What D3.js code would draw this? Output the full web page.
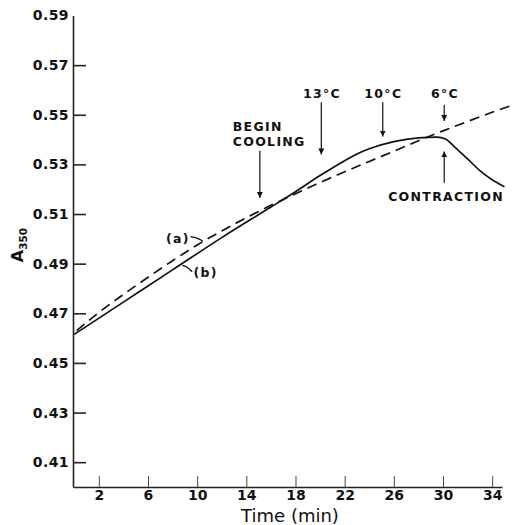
<!DOCTYPE html>
<html>
<head>
<meta charset="utf-8">
<script src="https://cdn.jsdelivr.net/npm/d3@7/dist/d3.min.js"></script>
<style>
  body { margin: 0; background: #fff; }
  svg text { font-family: "DejaVu Sans", sans-serif; fill: #111; }
</style>
</head>
<body>
<svg id="chart"></svg>
<script>
// time (min) and A350 readings
const timeA = [0.2, 2, 4, 6, 8, 10, 12, 14, 16, 18, 20, 22, 24, 26, 28, 30, 32, 34, 35.6];
const valuesA = [0.463, 0.4703, 0.4776, 0.4845, 0.4912, 0.4975, 0.5032, 0.5085, 0.5135, 0.5182, 0.5227, 0.527, 0.5312, 0.5353, 0.5395, 0.5435, 0.5473, 0.551, 0.5538];

const timeB = [0, 4, 8, 12, 16, 18, 20, 22, 23, 24, 26, 28, 29.5, 30.2, 31, 32, 33, 34, 35];
const valuesB = [0.4615, 0.4745, 0.4875, 0.5005, 0.5128, 0.519, 0.5255, 0.5315, 0.5342, 0.5363, 0.5392, 0.5407, 0.541, 0.5402, 0.5368, 0.5322, 0.5275, 0.5238, 0.521];

const xTicks = [2, 6, 10, 14, 18, 22, 26, 30, 34];
const yTicks = [0.41, 0.43, 0.45, 0.47, 0.49, 0.51, 0.53, 0.55, 0.57, 0.59];

// arrows: time, start value, end value
const arrows = [
  { t: 15.1, from: 0.5355, to: 0.5165 },
  { t: 20.1, from: 0.555, to: 0.534 },
  { t: 25.1, from: 0.555, to: 0.5412 },
  { t: 30.1, from: 0.554, to: 0.5475 },
  { t: 30.1, from: 0.5226, to: 0.5352 }
];

const labels = [
  { text: "13°C", t: 20.15, v: 0.5569, anchor: "middle" },
  { text: "10°C", t: 25.15, v: 0.5569, anchor: "middle" },
  { text: "6°C", t: 30.17, v: 0.5569, anchor: "middle" },
  { text: "BEGIN", t: 12.9, v: 0.5436, anchor: "start" },
  { text: "COOLING", t: 12.9, v: 0.5376, anchor: "start" },
  { text: "CONTRACTION", t: 30.25, v: 0.5153, anchor: "middle" },
  { text: "(a)", t: 8.43, v: 0.4984, anchor: "middle" },
  { text: "(b)", t: 10.7, v: 0.4847, anchor: "middle" }
];

// small curly leaders from (a) and (b) to their curves
const leaders = [
  [[9.45, 0.5009], [10.0, 0.5005], [10.45, 0.4991]],
  [[9.6, 0.4867], [9.2, 0.4887], [8.8, 0.4893]]
];

const width = 512, height = 525;
const svg = d3.select("#chart").attr("width", width).attr("height", height);

const x = d3.scaleLinear().domain([-0.1, 34.8]).range([73, 502]);
const y = d3.scaleLinear().domain([0.40, 0.59]).range([487, 15.5]);

svg.append("defs").append("marker")
  .attr("id", "head")
  .attr("viewBox", "0 0 10 10")
  .attr("refX", 10).attr("refY", 5)
  .attr("markerWidth", 6).attr("markerHeight", 7)
  .attr("markerUnits", "userSpaceOnUse")
  .attr("orient", "auto")
  .append("path").attr("d", "M0,0L10,5L0,10Z").attr("fill", "#111");

const yAxis = svg.append("g")
  .attr("transform", `translate(${x(-0.1)},0)`)
  .call(d3.axisLeft(y).tickValues(yTicks).tickSizeInner(-13).tickSizeOuter(0).tickPadding(4).tickFormat(d3.format(".2f")));
yAxis.selectAll(".tick").filter(d => d === 0.59).select("line").remove();

const xAxis = svg.append("g")
  .attr("transform", `translate(0,${y(0.40)})`)
  .call(d3.axisBottom(x).tickValues(xTicks).tickSizeInner(-11).tickSizeOuter(0).tickPadding(3));

svg.selectAll(".domain").attr("stroke", "#222").attr("stroke-width", 1.6);
yAxis.selectAll(".tick line").attr("stroke", "#222").attr("stroke-width", 1.6);
xAxis.selectAll(".tick line").attr("stroke", "#444").attr("stroke-width", 1);
svg.selectAll(".tick text")
  .attr("font-family", "DejaVu Sans")
  .attr("font-size", 14).attr("font-weight", "bold").attr("fill", "#111");
yAxis.selectAll(".tick text").attr("letter-spacing", 0.4);

svg.append("text")
  .attr("x", 290).attr("y", 522)
  .attr("text-anchor", "middle")
  .attr("font-size", 18)
  .text("Time (min)");

const yLabel = svg.append("text")
  .attr("transform", "translate(23,245) rotate(-90)")
  .attr("text-anchor", "middle")
  .attr("font-size", 16).attr("font-weight", "bold");
yLabel.append("tspan").text("A");
yLabel.append("tspan").attr("font-size", 10.5).attr("dy", 4).text("350");

const line = d3.line().x(d => x(d[0])).y(d => y(d[1])).curve(d3.curveMonotoneX);

svg.append("path")
  .datum(d3.zip(timeA, valuesA))
  .attr("d", line)
  .attr("fill", "none").attr("stroke", "#111").attr("stroke-width", 1.7)
  .attr("stroke-dasharray", "10,6");

svg.append("path")
  .datum(d3.zip(timeB, valuesB))
  .attr("d", line)
  .attr("fill", "none").attr("stroke", "#111").attr("stroke-width", 1.7);

svg.selectAll(".arrow")
  .data(arrows)
  .enter().append("line")
  .attr("class", "arrow")
  .attr("x1", d => x(d.t)).attr("x2", d => x(d.t))
  .attr("y1", d => y(d.from)).attr("y2", d => y(d.to))
  .attr("stroke", "#111").attr("stroke-width", 1.2)
  .attr("marker-end", "url(#head)");

svg.selectAll(".leader")
  .data(leaders)
  .enter().append("path")
  .attr("class", "leader")
  .attr("d", d3.line().x(d => x(d[0])).y(d => y(d[1])).curve(d3.curveBasis))
  .attr("fill", "none").attr("stroke", "#111").attr("stroke-width", 1.3);

svg.selectAll(".note")
  .data(labels)
  .enter().append("text")
  .attr("class", "note")
  .attr("x", d => x(d.t)).attr("y", d => y(d.v))
  .attr("text-anchor", d => d.anchor)
  .attr("font-size", 12.5).attr("font-weight", "bold")
  .attr("letter-spacing", 1.3)
  .text(d => d.text);
</script>
</body>
</html>
